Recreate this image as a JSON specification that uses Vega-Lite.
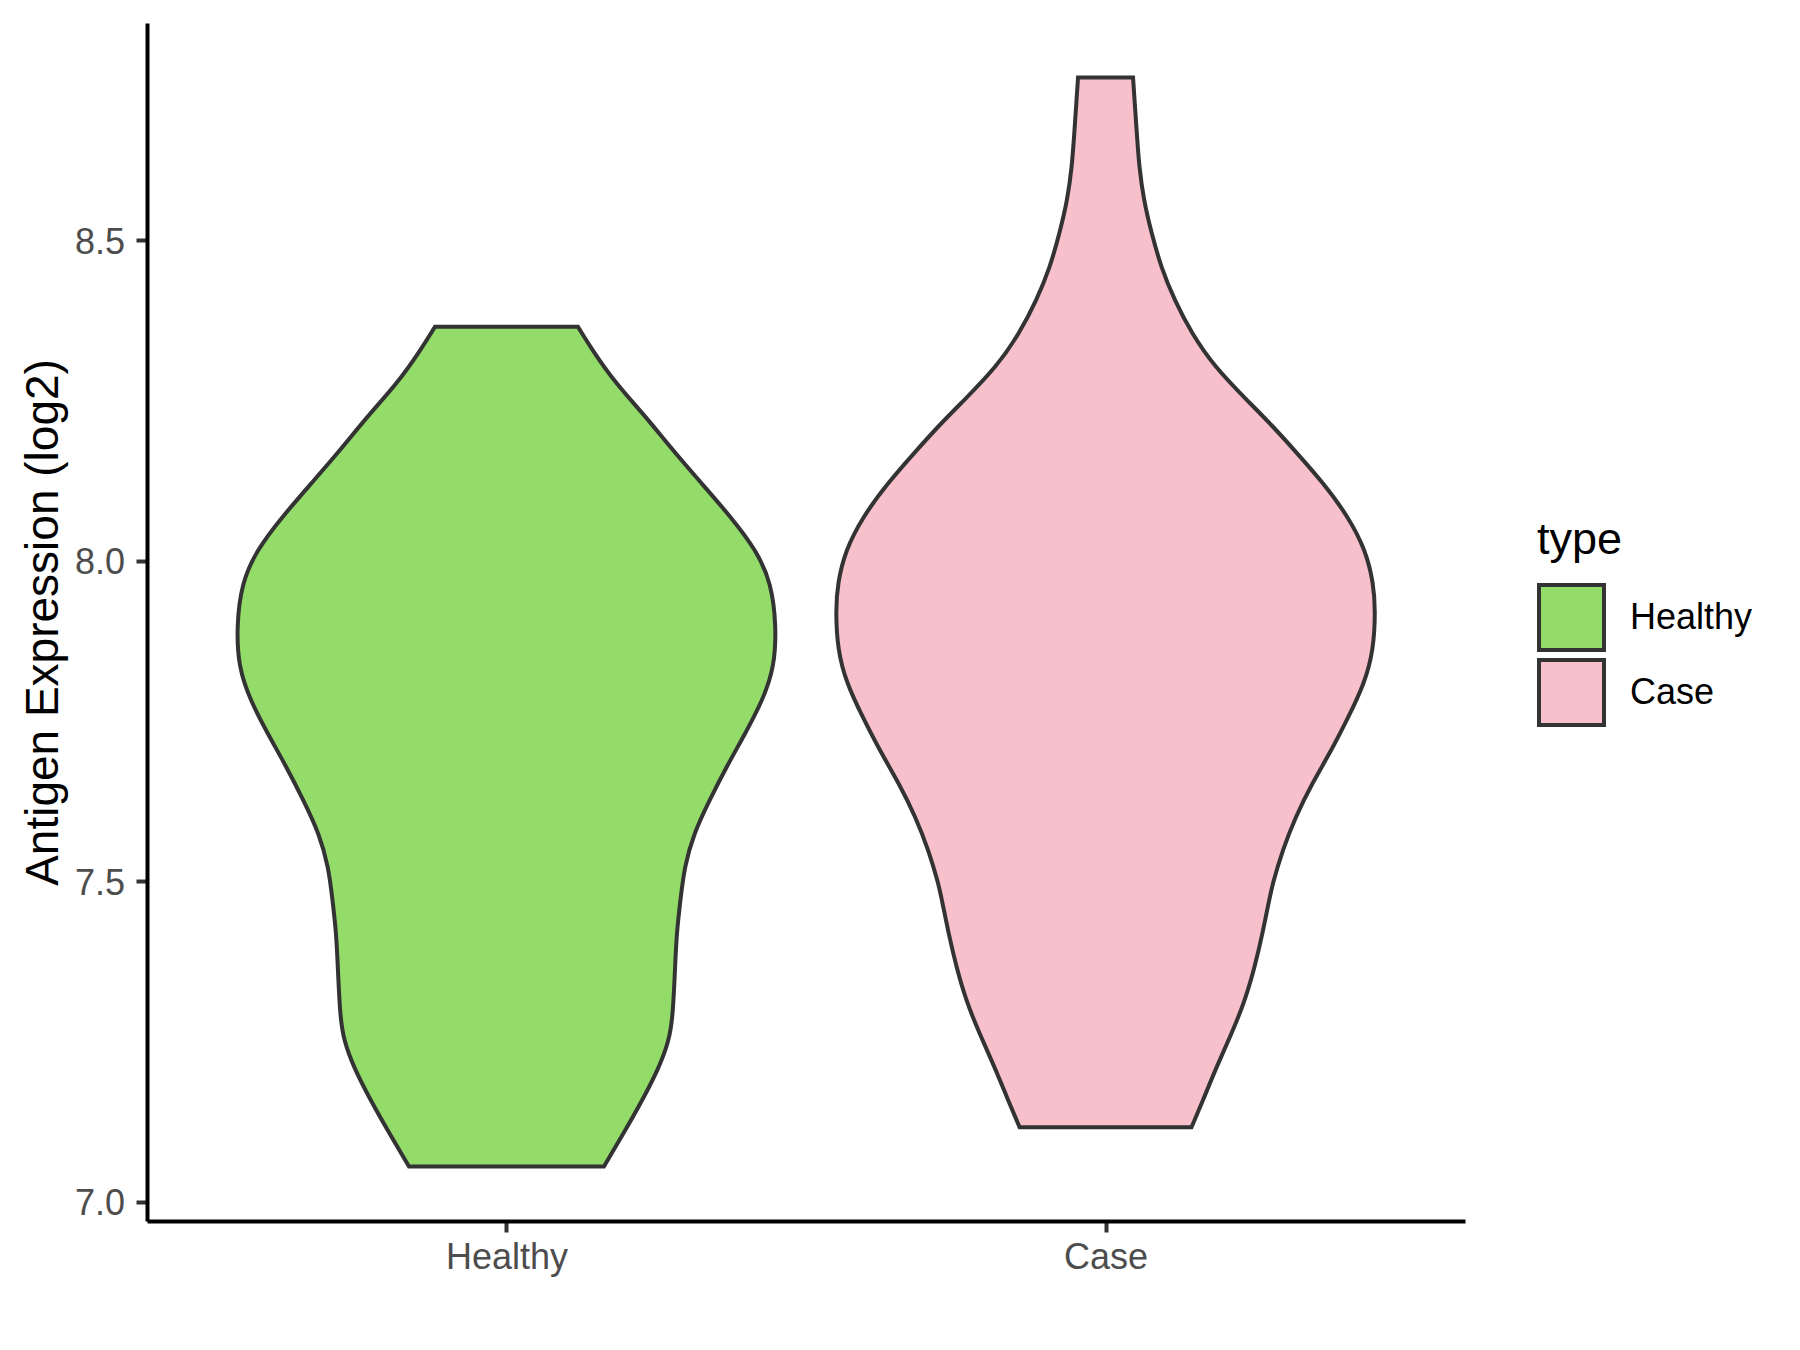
{
  "$schema": "https://vega.github.io/schema/vega-lite/v6.json",
  "width": 1318,
  "height": 1198,
  "autosize": {"type": "none"},
  "padding": {"left": 147, "top": 23, "right": 335, "bottom": 129},
  "background": "white",
  "config": {"view": {"stroke": null}, "font": "Liberation Sans"},
  "data": {
    "values": [
      {"type": "Healthy", "expression": 7.0546, "lo": 0.8373, "hi": 1.1627},
      {"type": "Healthy", "expression": 7.106, "lo": 0.8048, "hi": 1.1952},
      {"type": "Healthy", "expression": 7.158, "lo": 0.7731, "hi": 1.2269},
      {"type": "Healthy", "expression": 7.21, "lo": 0.7447, "hi": 1.2553},
      {"type": "Healthy", "expression": 7.251, "lo": 0.7287, "hi": 1.2713},
      {"type": "Healthy", "expression": 7.288, "lo": 0.7223, "hi": 1.2777},
      {"type": "Healthy", "expression": 7.366, "lo": 0.7185, "hi": 1.2815},
      {"type": "Healthy", "expression": 7.418, "lo": 0.716, "hi": 1.284},
      {"type": "Healthy", "expression": 7.47, "lo": 0.7097, "hi": 1.2903},
      {"type": "Healthy", "expression": 7.522, "lo": 0.703, "hi": 1.297},
      {"type": "Healthy", "expression": 7.5745, "lo": 0.6873, "hi": 1.3127},
      {"type": "Healthy", "expression": 7.626, "lo": 0.6613, "hi": 1.3387},
      {"type": "Healthy", "expression": 7.678, "lo": 0.6329, "hi": 1.3671},
      {"type": "Healthy", "expression": 7.7306, "lo": 0.6012, "hi": 1.3988},
      {"type": "Healthy", "expression": 7.782, "lo": 0.5723, "hi": 1.4277},
      {"type": "Healthy", "expression": 7.834, "lo": 0.5528, "hi": 1.4472},
      {"type": "Healthy", "expression": 7.8965, "lo": 0.5495, "hi": 1.4505},
      {"type": "Healthy", "expression": 7.965, "lo": 0.5578, "hi": 1.4422},
      {"type": "Healthy", "expression": 8.016, "lo": 0.5828, "hi": 1.4172},
      {"type": "Healthy", "expression": 8.068, "lo": 0.6252, "hi": 1.3748},
      {"type": "Healthy", "expression": 8.121, "lo": 0.6746, "hi": 1.3254},
      {"type": "Healthy", "expression": 8.172, "lo": 0.7222, "hi": 1.2778},
      {"type": "Healthy", "expression": 8.2243, "lo": 0.767, "hi": 1.233},
      {"type": "Healthy", "expression": 8.277, "lo": 0.8181, "hi": 1.1819},
      {"type": "Healthy", "expression": 8.3284, "lo": 0.8565, "hi": 1.1435},
      {"type": "Healthy", "expression": 8.365, "lo": 0.8807, "hi": 1.1193},
      {"type": "Case", "expression": 7.116, "lo": 1.8565, "hi": 2.1435},
      {"type": "Case", "expression": 7.158, "lo": 1.8373, "hi": 2.1627},
      {"type": "Case", "expression": 7.21, "lo": 1.8148, "hi": 2.1852},
      {"type": "Case", "expression": 7.2623, "lo": 1.7894, "hi": 2.2106},
      {"type": "Case", "expression": 7.3138, "lo": 1.7671, "hi": 2.2329},
      {"type": "Case", "expression": 7.366, "lo": 1.751, "hi": 2.249},
      {"type": "Case", "expression": 7.418, "lo": 1.738, "hi": 2.262},
      {"type": "Case", "expression": 7.47, "lo": 1.727, "hi": 2.273},
      {"type": "Case", "expression": 7.4964, "lo": 1.721, "hi": 2.279},
      {"type": "Case", "expression": 7.548, "lo": 1.7047, "hi": 2.2953},
      {"type": "Case", "expression": 7.6, "lo": 1.683, "hi": 2.317},
      {"type": "Case", "expression": 7.6525, "lo": 1.6553, "hi": 2.3447},
      {"type": "Case", "expression": 7.704, "lo": 1.6229, "hi": 2.3771},
      {"type": "Case", "expression": 7.756, "lo": 1.5945, "hi": 2.4055},
      {"type": "Case", "expression": 7.8086, "lo": 1.5678, "hi": 2.4322},
      {"type": "Case", "expression": 7.86, "lo": 1.5528, "hi": 2.4472},
      {"type": "Case", "expression": 7.9226, "lo": 1.5495, "hi": 2.4505},
      {"type": "Case", "expression": 7.965, "lo": 1.5528, "hi": 2.4472},
      {"type": "Case", "expression": 8.016, "lo": 1.5658, "hi": 2.4342},
      {"type": "Case", "expression": 8.068, "lo": 1.5945, "hi": 2.4055},
      {"type": "Case", "expression": 8.121, "lo": 1.6362, "hi": 2.3638},
      {"type": "Case", "expression": 8.1723, "lo": 1.6846, "hi": 2.3154},
      {"type": "Case", "expression": 8.2113, "lo": 1.7223, "hi": 2.2777},
      {"type": "Case", "expression": 8.2504, "lo": 1.7639, "hi": 2.2361},
      {"type": "Case", "expression": 8.3024, "lo": 1.8181, "hi": 2.1819},
      {"type": "Case", "expression": 8.355, "lo": 1.8565, "hi": 2.1435},
      {"type": "Case", "expression": 8.4065, "lo": 1.8849, "hi": 2.1151},
      {"type": "Case", "expression": 8.4585, "lo": 1.9076, "hi": 2.0924},
      {"type": "Case", "expression": 8.511, "lo": 1.9232, "hi": 2.0768},
      {"type": "Case", "expression": 8.5626, "lo": 1.9363, "hi": 2.0637},
      {"type": "Case", "expression": 8.6146, "lo": 1.9439, "hi": 2.0561},
      {"type": "Case", "expression": 8.667, "lo": 1.9478, "hi": 2.0522},
      {"type": "Case", "expression": 8.7187, "lo": 1.9516, "hi": 2.0484},
      {"type": "Case", "expression": 8.754, "lo": 1.9541, "hi": 2.0459}
    ]
  },
  "mark": {
    "type": "area",
    "orient": "horizontal",
    "interpolate": "basis",
    "stroke": "#333333",
    "strokeWidth": 4,
    "strokeJoin": "miter",
    "opacity": 1
  },
  "encoding": {
    "y": {
      "field": "expression",
      "type": "quantitative",
      "scale": {"domain": [6.9696, 8.839], "nice": false, "zero": false},
      "axis": {
        "title": "Antigen Expression (log2)",
        "values": [7, 7.5, 8, 8.5],
        "format": ".1f",
        "grid": false,
        "domainColor": "black",
        "domainWidth": 4,
        "tickColor": "#333333",
        "tickWidth": 4,
        "tickSize": 11,
        "labelFont": "Liberation Sans",
        "labelFontSize": 36,
        "labelColor": "#4D4D4D",
        "labelPadding": 11.5,
        "labelBaseline": "middle",
        "labelOffset": 2,
        "titleFont": "Liberation Sans",
        "titleFontSize": 46,
        "titleColor": "black",
        "titleFontWeight": "normal",
        "titleAngle": -90,
        "titleBaseline": "alphabetic",
        "titleAlign": "center",
        "titleX": -90,
        "titleY": 599
      }
    },
    "x": {
      "field": "lo",
      "type": "quantitative",
      "stack": null,
      "scale": {"domain": [0.4, 2.6], "nice": false, "zero": false},
      "axis": {
        "title": null,
        "values": [1, 2],
        "labelExpr": "datum.value == 1 ? 'Healthy' : 'Case'",
        "grid": false,
        "domainColor": "black",
        "domainWidth": 4,
        "tickColor": "#333333",
        "tickWidth": 4,
        "tickSize": 11,
        "labelFont": "Liberation Sans",
        "labelFontSize": 36,
        "labelColor": "#4D4D4D",
        "labelPadding": 8
      }
    },
    "x2": {"field": "hi"},
    "fill": {
      "field": "type",
      "type": "nominal",
      "scale": {"domain": ["Healthy", "Case"], "range": ["#94DC6A", "#F8C0CB"]},
      "legend": {
        "title": "type",
        "orient": "none",
        "legendX": 1390,
        "legendY": 495,
        "padding": 0,
        "titleFont": "Liberation Sans",
        "titleFontSize": 45,
        "titleColor": "black",
        "titleFontWeight": "normal",
        "titlePadding": 20,
        "labelFont": "Liberation Sans",
        "labelFontSize": 36,
        "labelColor": "black",
        "labelOffset": 24,
        "symbolType": "square",
        "symbolSize": 4225,
        "symbolStrokeColor": "#333333",
        "symbolStrokeWidth": 4,
        "symbolOpacity": 1,
        "rowPadding": -7.5
      }
    }
  }
}
